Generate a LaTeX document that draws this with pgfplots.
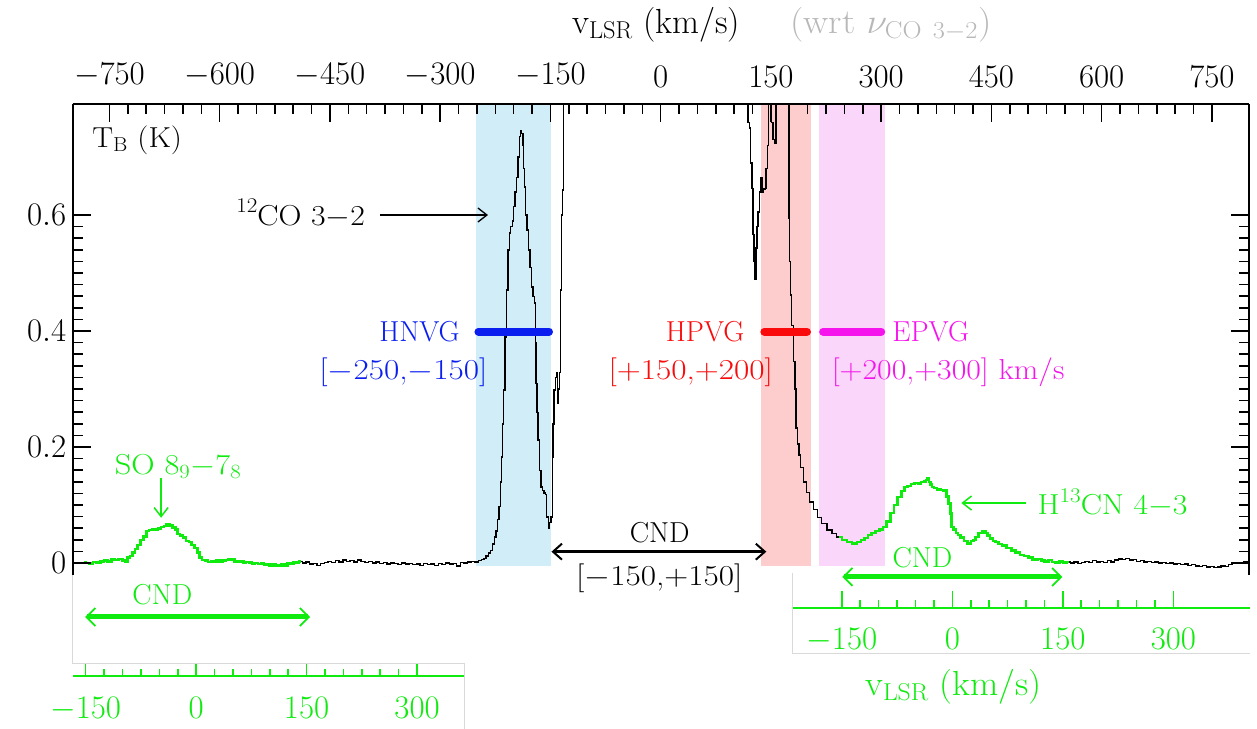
\RequirePackage{fix-cm}
\documentclass[border=0pt]{standalone}
\usepackage{graphicx}
\usepackage{pgfplots}
\pgfplotsset{compat=1.18}
\usepackage{pgfplotstable}
\usetikzlibrary{arrows.meta}
\definecolor{bandB}{RGB}{208,237,248}
\definecolor{bandR}{RGB}{253,205,205}
\definecolor{bandM}{RGB}{250,215,250}
\definecolor{lgreen}{RGB}{15,235,15}
\definecolor{pblue}{RGB}{10,30,240}
\definecolor{pred}{RGB}{250,10,10}
\definecolor{pmag}{RGB}{245,20,235}
\newcommand\lab{\fontsize{29}{34}\selectfont}
\newcommand\tck{\fontsize{33}{38}\selectfont}
\newcommand\wide[1]{\scalebox{1.15}[1]{#1}}
\newcommand\isosup[1]{\raisebox{0.42em}{\fontsize{21}{24}\selectfont #1}}
\pgfplotstableread{
v T
-800 0.001
-795 -0.001
-790 0.000
-785 0.001
-780 0.000
-775 -0.001
-770 0.002
-765 0.001
-760 0.003
-755 0.004
-750 0.003
-745 0.006
-740 0.005
-735 0.007
-730 0.004
-727 0.002
-724 0.009
-720 0.012
-717 0.018
-713 0.024
-710 0.031
-706 0.040
-702 0.046
-698 0.055
-694 0.057
-690 0.058
-686 0.058
-682 0.060
-678 0.062
-674 0.064
-670 0.066
-666 0.065
-662 0.061
-659 0.058
-656 0.050
-652 0.047
-648 0.044
-644 0.038
-640 0.036
-636 0.031
-632 0.026
-629 0.018
-626 0.010
-622 0.005
-618 0.004
-614 0.002
-610 0.003
-606 0.002
-602 0.004
-598 0.002
-594 0.004
-590 0.005
-586 0.007
-582 0.006
-578 0.003
-574 0.002
-570 0.003
-566 0.000
-562 0.002
-558 0.001
-554 -0.001
-550 0.000
-546 -0.002
-542 -0.001
-538 -0.003
-534 -0.002
-530 -0.004
-526 -0.003
-522 -0.005
-518 -0.004
-514 -0.002
-510 -0.004
-506 0.000
-502 -0.001
-498 0.002
-494 0.001
-490 0.003
-485 0.000
-480 0.002
-475 -0.002
-470 -0.001
-465 -0.004
-460 -0.001
-455 0.001
-450 0.003
-445 0.001
-440 0.004
-435 0.002
-430 0.005
-425 0.003
-420 0.004
-415 0.002
-410 0.005
-405 0.003
-400 0.001
-395 0.003
-390 0.000
-385 0.002
-380 -0.001
-375 0.001
-370 -0.002
-365 0.000
-360 -0.001
-355 -0.003
-350 0.000
-345 -0.002
-340 -0.001
-335 -0.003
-330 -0.002
-325 -0.004
-320 -0.001
-315 -0.003
-310 -0.002
-305 -0.004
-300 -0.001
-295 -0.003
-290 0.000
-285 -0.002
-280 -0.001
-275 -0.005
-270 0.001
-265 0.000
-260 0.002
-255 0.003
-250 0.002
-246 0.004
-242 0.006
-239 0.008
-236 0.012
-233 0.017
-230 0.022
-227 0.033
-225 0.045
-223 0.055
-221 0.075
-219 0.097
-217 0.140
-216 0.183
-214 0.240
-213 0.298
-211 0.390
-209 0.471
-207 0.540
-205 0.569
-203 0.580
-201 0.590
-199 0.615
-197 0.640
-195 0.665
-193 0.700
-191 0.735
-190 0.745
-188 0.741
-187 0.720
-186 0.680
-185 0.648
-183 0.600
-181 0.574
-179 0.540
-177 0.510
-175 0.476
-173 0.460
-171 0.448
-170 0.380
-169 0.310
-168 0.260
-166 0.212
-164 0.160
-162 0.131
-160 0.125
-158 0.121
-156 0.118
-154 0.079
-152 0.060
-150 0.070
-148 0.079
-147 0.183
-146 0.240
-144 0.298
-143 0.320
-141 0.328
-140 0.276
-138 0.300
-137 0.328
-136 0.471
-134 0.600
-133 0.643
-132 0.900
-130 1.200
0 1.200
115 1.200
118 0.800
120 0.760
121 0.750
123 0.690
125 0.646
126 0.566
128 0.520
129 0.490
130 0.543
132 0.580
133 0.605
135 0.640
137 0.664
139 0.640
141 0.645
143 0.646
144 0.680
146 0.720
148 0.850
150 0.900
152 0.760
154 0.730
156 0.724
158 0.900
160 1.000
172 1.000
174 0.800
175 0.595
176 0.520
177 0.462
179 0.410
182 0.347
183 0.300
185 0.233
187 0.205
189 0.186
192 0.165
196 0.140
200 0.122
205 0.105
210 0.092
216 0.078
222 0.068
230 0.057
236 0.051
243 0.045
250 0.040
257 0.036
264 0.034
270 0.036
275 0.040
280 0.043
284 0.048
290 0.052
295 0.055
300 0.058
305 0.062
310 0.072
315 0.086
320 0.100
325 0.114
330 0.124
334 0.131
338 0.133
343 0.136
348 0.138
352 0.137
356 0.140
360 0.141
362 0.143
364 0.146
366 0.140
368 0.135
370 0.131
374 0.129
378 0.127
383 0.126
386 0.124
388 0.125
390 0.115
393 0.103
395 0.085
397 0.062
400 0.058
403 0.052
406 0.048
410 0.044
415 0.038
420 0.034
424 0.038
427 0.040
430 0.045
435 0.052
440 0.054
443 0.052
446 0.047
450 0.042
454 0.038
457 0.036
462 0.033
467 0.030
474 0.026
480 0.022
486 0.018
492 0.014
497 0.012
503 0.009
508 0.006
511 0.005
516 0.007
520 0.004
525 0.003
530 0.005
535 0.002
540 0.001
545 0.003
550 0.001
555 0.002
560 0.000
565 0.002
570 -0.001
575 0.001
580 0.003
585 0.001
590 0.004
595 0.002
600 0.003
605 0.001
610 0.004
615 0.002
620 0.005
625 0.007
630 0.006
635 0.008
640 0.005
645 0.006
650 0.003
655 0.004
660 0.002
665 0.003
670 0.001
675 0.002
680 0.000
685 0.001
690 -0.001
695 0.000
700 -0.002
705 -0.001
710 -0.003
715 -0.002
720 -0.004
725 -0.003
730 -0.005
735 -0.006
740 -0.004
745 -0.007
750 -0.006
755 -0.008
760 -0.007
765 -0.005
770 -0.006
775 -0.003
780 -0.001
785 0.001
790 0.000
795 0.002
800 0.001
}\spec
\begin{document}
\begin{tikzpicture}
\useasboundingbox (0,0) rectangle (1257bp,-729bp);
% light gray frames of the insets
\draw[black!15, line width=1bp] (72.7bp,-574bp) -- (72.7bp,-663bp) -- (464bp,-663bp);
\draw[black!15, line width=1bp] (464bp,-663bp) -- (464bp,-729bp);
\draw[black!15, line width=1bp] (792.7bp,-573bp) -- (792.7bp,-653bp) -- (1250bp,-653bp);
\begin{axis}[
  at={(72.7bp,-575bp)}, anchor=south west,
  scale only axis, width=1176bp, height=471bp,
  xmin=-800, xmax=800, ymin=-0.0207, ymax=0.7914,
  axis x line=top, axis y line=box,
  axis line style={-, line width=2bp, black},
  tick align=inside,
  xtick={-750,-600,...,750}, minor x tick num=5,
  ytick={0,0.2,0.4,0.6}, minor y tick num=9,
  major tick length=18bp, minor tick length=10bp,
  tick style={line width=1.5bp, black},
  tick label style={font=\tck},
  xticklabel style={yshift=13bp},
  yticklabel style={xshift=-3bp},
  clip mode=individual,
  axis on top,
]
\fill[bandB] (axis cs:-251.5,-0.006) rectangle (axis cs:-149.5,0.7914);
\fill[bandR] (axis cs:136,-0.006) rectangle (axis cs:204,0.7914);
\fill[bandM] (axis cs:215,-0.006) rectangle (axis cs:305,0.7914);
\addplot[black, line width=1.4bp, const plot mark mid] table[x=v,y=T] {\spec};
\addplot[lgreen, line width=2.6bp, const plot mark mid, restrict x to domain=-785:-490] table[x=v,y=T] {\spec};
\addplot[lgreen, line width=2.6bp, const plot mark mid, restrict x to domain=243:556] table[x=v,y=T] {\spec};
% velocity ranges
\draw[pblue, line width=8bp, line cap=round] (axis cs:-248,0.399) -- (axis cs:-152,0.399);
\draw[pred, line width=8bp, line cap=round] (axis cs:141,0.399) -- (axis cs:199,0.399);
\draw[pmag, line width=8bp, line cap=round] (axis cs:221,0.399) -- (axis cs:300,0.399);
\node[anchor=east, inner sep=0, text=pblue, font=\lab] at (axis cs:-273.3,0.399) {HNVG};
\node[inner sep=0, text=pblue, font=\lab] at (axis cs:-350,0.329) {\wide{[$-$250,$-$150]}};
\node[anchor=east, inner sep=0, text=pred, font=\lab] at (axis cs:114,0.399) {HPVG};
\node[inner sep=0, text=pred, font=\lab] at (axis cs:40.8,0.329) {\wide{[$+$150,$+$200]}};
\node[anchor=west, inner sep=0, text=pmag, font=\lab] at (axis cs:315,0.399) {EPVG};
\node[anchor=west, inner sep=0, text=pmag, font=\lab] at (axis cs:232.5,0.329) {\scalebox{1.1}[1]{[$+$200,$+$300]~km/s}};
% CO annotation
\node[anchor=east, inner sep=0, font=\lab] at (axis cs:-402,0.603) {\scalebox{1.1}[1]{\isosup{12}CO 3$-$2}};
\draw[black, line width=1.3bp, -{Straight Barb[length=9bp,width=14bp]}] (axis cs:-382,0.6) -- (axis cs:-235,0.6);
\node[anchor=west, inner sep=0, font=\lab] at (axis cs:-773.5,0.729) {\scalebox{1.08}[1]{T$_{\rm B}$ (K)}};
% CND black
\draw[black, line width=3.5bp, {Straight Barb[length=9bp,width=16bp,line width=2bp]}-{Straight Barb[length=9bp,width=16bp,line width=2bp]}] (axis cs:-148.6,0.0195) -- (axis cs:143.7,0.0195);
\node[inner sep=0, font=\lab] at (axis cs:-1.4,0.0517) {CND};
\node[inner sep=0, font=\lab] at (axis cs:-2,-0.026) {\wide{[$-$150,$+$150]}};
% SO line
\node[inner sep=0, text=lgreen, font=\lab] at (axis cs:-656.6,0.167) {\scalebox{1.12}[1]{SO 8$_9$$-$7$_8$}};
\draw[lgreen, line width=1.5bp, -{Straight Barb[length=9bp,width=14bp]}] (axis cs:-679.7,0.147) -- (axis cs:-679.7,0.078);
\node[inner sep=0, text=lgreen, font=\lab] at (axis cs:-678,-0.055) {CND};
\draw[lgreen, line width=5bp, {Straight Barb[length=9bp,width=18bp,line width=1.8bp]}-{Straight Barb[length=9bp,width=18bp,line width=1.8bp]}] (axis cs:-783,-0.0931) -- (axis cs:-477,-0.0931);
% H13CN line
\node[anchor=west, inner sep=0, text=lgreen, font=\lab] at (axis cs:512.5,0.1034) {\scalebox{1.1}[1]{H\isosup{13}CN 4$-$3}};
\draw[lgreen, line width=1.5bp, -{Straight Barb[length=9bp,width=14bp]}] (axis cs:497.6,0.1034) -- (axis cs:409,0.1034);
\node[inner sep=0, text=lgreen, font=\lab] at (axis cs:356,0.0086) {CND};
\draw[lgreen, line width=5bp, {Straight Barb[length=9bp,width=18bp,line width=1.8bp]}-{Straight Barb[length=9bp,width=18bp,line width=1.8bp]}] (axis cs:247,-0.024) -- (axis cs:546.5,-0.024);
\end{axis}
% SO inset axis (own velocity scale)
\begin{axis}[
  at={(72.7bp,-676bp)}, anchor=south west,
  scale only axis, width=391.3bp, height=30bp,
  xmin=-167.6, xmax=363.7, ymin=0, ymax=1,
  axis x line=bottom, hide y axis,
  x axis line style={-, draw=lgreen, line width=2.3bp},
  xtick={-150,0,150,300}, minor x tick num=5, tick align=inside,
  major tick length=12bp, minor tick length=7bp,
  tick style={lgreen, line width=1.6bp},
  xticklabel style={text=lgreen, font=\tck, yshift=-18bp},
]
\end{axis}
% H13CN inset axis (own velocity scale)
\begin{axis}[
  at={(792.7bp,-607.7bp)}, anchor=south west,
  scale only axis, width=457.3bp, height=30bp,
  xmin=-216.6, xmax=404, ymin=0, ymax=1,
  axis x line=bottom, hide y axis,
  x axis line style={-, draw=lgreen, line width=2.3bp},
  xtick={-150,0,150,300}, minor x tick num=5, tick align=inside,
  major tick length=17bp, minor tick length=8bp,
  tick style={lgreen, line width=1.6bp},
  xticklabel style={text=lgreen, font=\tck, yshift=-17bp},
]
\end{axis}
\node[text=lgreen, font=\fontsize{35}{40}\selectfont, inner sep=0] at (953.5bp,-687bp) {\scalebox{1.05}[1]{v$_{\rm LSR}$ (km/s)}};
\node[anchor=west, inner sep=0, font=\fontsize{35}{40}\selectfont] at (572bp,-25bp) {v$_{\rm LSR}$ (km/s)};
\node[anchor=west, inner sep=0, text=black!28, font=\fontsize{35}{40}\selectfont] at (790bp,-25bp) {\scalebox{1.08}[1]{(wrt $\nu_{\rm CO\ 3-2}$)}};
\end{tikzpicture}
\end{document}
